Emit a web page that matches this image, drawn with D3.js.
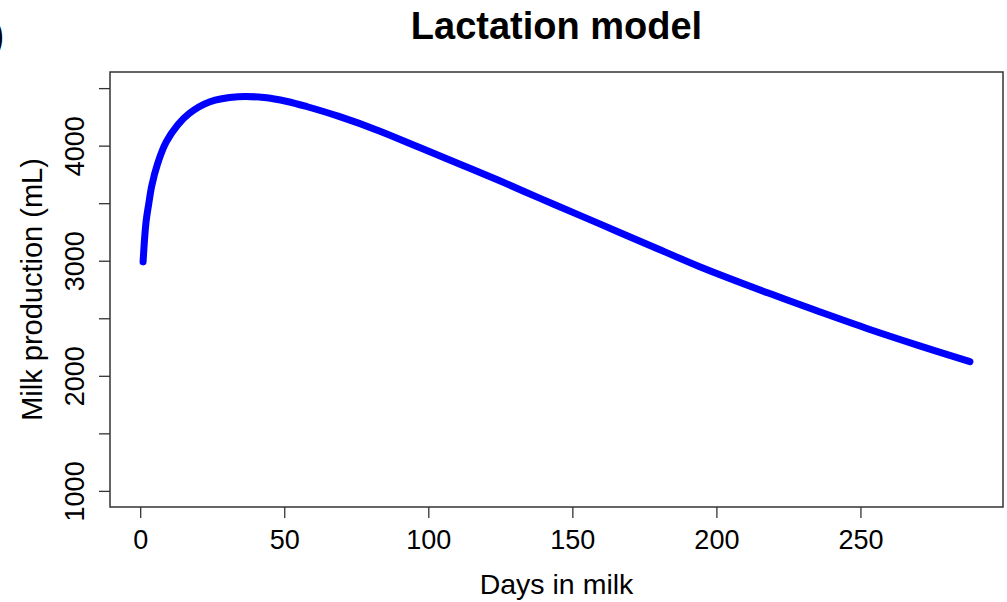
<!DOCTYPE html>
<html>
<head>
<meta charset="utf-8">
<script src="https://cdn.jsdelivr.net/npm/d3@7"></script>
<style>
  body { margin: 0; background: #fff; }
  text { font-family: "Liberation Sans", Arial, sans-serif; fill: #000; }
</style>
</head>
<body>
<div id="chart"></div>
<script>
// values
const days = [1, 2, 3, 4, 6, 9, 13, 17, 24, 34, 43, 51, 58, 69, 83, 97, 111, 125, 139, 153, 166, 180, 194, 218, 236, 253, 270, 288];
const milk = [2990, 3330, 3500, 3650, 3840, 4030, 4180, 4280, 4380, 4425, 4418, 4384, 4338, 4254, 4128, 3983, 3838, 3692, 3540, 3390, 3250, 3100, 2950, 2719, 2555, 2405, 2265, 2123];
const xTicks = [0, 50, 100, 150, 200, 250];
const yTicks = [1000, 1500, 2000, 2500, 3000, 3500, 4000, 4500];
const yTickLabels = [1000, 2000, 3000, 4000];
const yLimits = [1000, 4500];

const width = 1007, height = 602;
const margin = {top: 72, right: 4, bottom: 95, left: 110};
const innerW = width - margin.left - margin.right;
const innerH = height - margin.top - margin.bottom;

const svg = d3.select('#chart').append('svg')
    .attr('width', width)
    .attr('height', height);

// R style 4% padding on both axes
const xExt = d3.extent(days);
const xPad = (xExt[1] - xExt[0]) * 0.04;
const yPad = (yLimits[1] - yLimits[0]) * 0.04;

const x = d3.scaleLinear()
    .domain([xExt[0] - xPad, xExt[1] + xPad])
    .range([0, innerW]);

const y = d3.scaleLinear()
    .domain([yLimits[0] - yPad, yLimits[1] + yPad])
    .range([innerH, 0]);

const g = svg.append('g')
    .attr('transform', `translate(${margin.left},${margin.top})`);

// x axis
const xAxisG = g.append('g')
    .attr('transform', `translate(0,${innerH})`)
    .call(d3.axisBottom(x).tickValues(xTicks).tickSize(11));
xAxisG.select('.domain').remove();
xAxisG.selectAll('line').attr('stroke', '#333').attr('stroke-width', 1.3);
xAxisG.selectAll('text')
    .attr('y', 42).attr('dy', null)
    .style('font-size', '27px')
    .style('font-family', '"Liberation Sans", Arial, sans-serif')
    .attr('fill', '#000');

// y axis
const yAxisG = g.append('g')
    .call(d3.axisLeft(y).tickValues(yTicks).tickSize(11)
        .tickFormat(d => yTickLabels.includes(d) ? d : ''));
yAxisG.select('.domain').remove();
yAxisG.selectAll('line').attr('stroke', '#333').attr('stroke-width', 1.3);
yAxisG.selectAll('text')
    .attr('x', null).attr('dy', null)
    .attr('transform', 'translate(-26,0) rotate(-90)')
    .attr('text-anchor', 'middle')
    .style('font-size', '27px')
    .style('font-family', '"Liberation Sans", Arial, sans-serif')
    .attr('fill', '#000');

// box
g.append('rect')
    .attr('width', innerW)
    .attr('height', innerH)
    .attr('fill', 'none')
    .attr('stroke', '#333')
    .attr('stroke-width', 1.5);

// curve
const line = d3.line()
    .x((d, i) => x(days[i]))
    .y(d => y(d))
    .curve(d3.curveCatmullRom.alpha(0.5));

g.append('path')
    .datum(milk)
    .attr('d', line)
    .attr('fill', 'none')
    .attr('stroke', '#0000ff')
    .attr('stroke-width', 7)
    .attr('stroke-linecap', 'round')
    .attr('stroke-linejoin', 'round');

// titles
svg.append('text')
    .attr('x', margin.left + innerW / 2)
    .attr('y', 39)
    .attr('text-anchor', 'middle')
    .style('font-size', '38px')
    .style('font-weight', 'bold')
    .text('Lactation model');

svg.append('text')
    .attr('x', margin.left + innerW / 2)
    .attr('y', 594)
    .attr('text-anchor', 'middle')
    .style('font-size', '28.5px')
    .text('Days in milk');

svg.append('text')
    .attr('transform', `translate(42,${margin.top + innerH / 2}) rotate(-90)`)
    .attr('text-anchor', 'middle')
    .style('font-size', '29px')
    .text('Milk production (mL)');

// clipped panel letter at top-left edge
svg.append('text')
    .attr('x', 4)
    .attr('y', 48)
    .attr('text-anchor', 'end')
    .style('font-size', '38px')
    .style('font-weight', 'bold')
    .attr('fill', '#2b3035')
    .text(')');
</script>
</body>
</html>
